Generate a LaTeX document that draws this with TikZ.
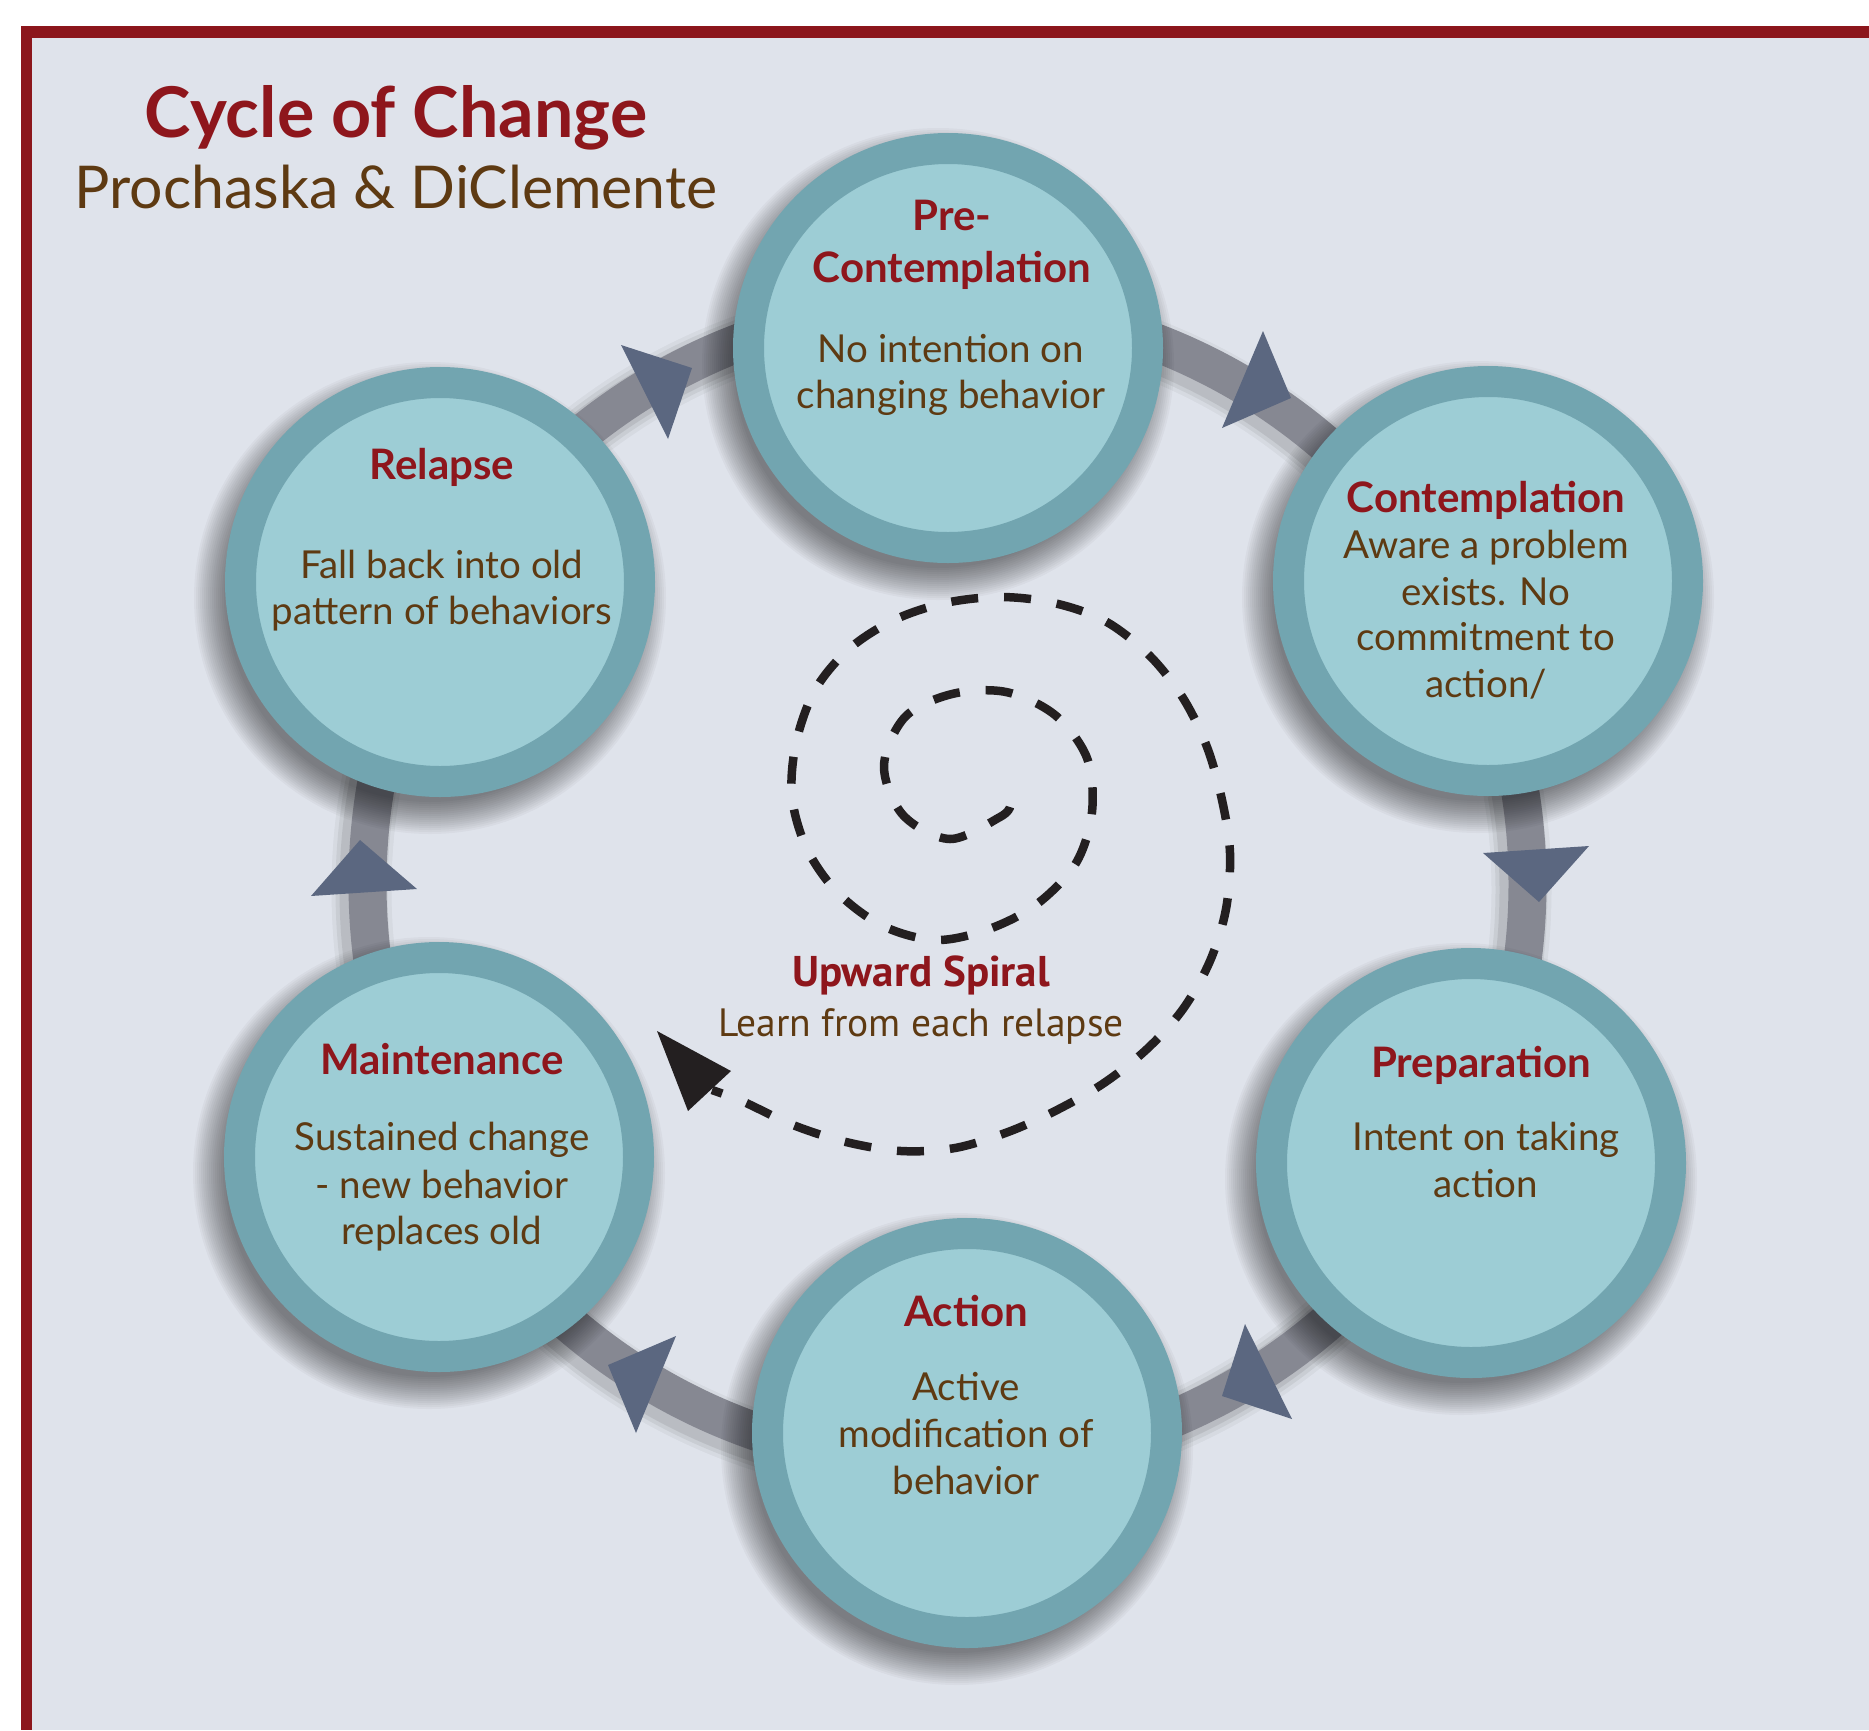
\documentclass[tikz,border=0pt]{standalone}
\usepackage{fontspec}
\setmainfont{Lato}
\newfontfamily\spiralfont{PT Sans}
\usetikzlibrary{calc}

\definecolor{panel}{HTML}{DFE3EB}
\definecolor{frame}{HTML}{8C161C}
\definecolor{ringout}{HTML}{72A5B0}
\definecolor{ringin}{HTML}{9DCDD5}
\definecolor{band}{HTML}{868892}
\definecolor{tri}{HTML}{5B6780}
\definecolor{headred}{HTML}{8E161C}
\definecolor{bodybrown}{HTML}{5E3A12}
\definecolor{ink}{HTML}{231F20}

\tikzset{
  stage/.style={circle, draw=ringout, line width=31pt, fill=ringin,
    minimum size=399pt, inner sep=0pt},
  head/.style={anchor=base, text=headred, font=\fontsize{42}{48}\selectfont\bfseries},
  body/.style={anchor=base, text=bodybrown, font=\fontsize{38.5}{44}\selectfont},
  turn/.style={fill=tri},
  spiral/.style={draw=ink, line width=8.5pt, dash pattern=on 27pt off 26pt}
}

% soft drop shadow under a stage, built from stacked translucent discs
\newcommand\stageshadow[1]{%
  \foreach \r in {204,206,...,236} {
    \fill[black, opacity=0.03] ($(#1)+(-10,16)$) circle (\r);
  }%
}

\begin{document}
\begin{tikzpicture}[x=1pt,y=-1pt]
  % page and frame
  \useasboundingbox (0,0) rectangle (1869,1730);
  \fill[white] (0,0) rectangle (1869,1730);
  \fill[frame] (21,26) rectangle (1869,1730);
  \fill[panel] (32,38) rectangle (1869,1730);

  % title
  \node[anchor=base, text=headred, font=\fontsize{70}{74}\selectfont\bfseries] (title) at (396,137) {Cycle of Change};
  \node[anchor=base, text=bodybrown, font=\fontsize{59}{64}\selectfont] (subtitle) at (396,208) {Prochaska \& DiClemente};

  % the cycle band with a soft shadow
  \coordinate (hub) at (947.5,884);
  \foreach \w/\o in {60/0.04,52/0.06,44/0.08} {
    \draw[black, opacity=\o, line width=\w pt] ($(hub)+(-6,6)$) circle (580);
  }
  \draw[band, line width=38pt] (hub) circle (580);

  % arrowheads along the band
  \fill[turn] (621,345) -- (692,368) -- (668,439) -- cycle;
  \fill[turn] (1263,331) -- (1291,398) -- (1222,428) -- cycle;
  \fill[turn] (1483,853) -- (1589,846) -- (1539,902) -- cycle;
  \fill[turn] (1245,1324) -- (1292,1419) -- (1222,1396) -- cycle;
  \fill[turn] (676,1336) -- (636,1433) -- (608,1365) -- cycle;
  \fill[turn] (360,840) -- (417,889) -- (311,896) -- cycle;

  % stage positions
  \coordinate (preC)  at (948,348);
  \coordinate (conC)  at (1488,581);
  \coordinate (prepC) at (1471,1163);
  \coordinate (actC)  at (967,1433);
  \coordinate (mainC) at (439,1157);
  \coordinate (relC)  at (440,582);

  \foreach \s in {preC,conC,prepC,actC,mainC,relC} { \stageshadow{\s} }

  % stages
  \node[stage] (pre)  at (preC)  {};
  \node[stage] (con)  at (conC)  {};
  \node[stage] (prep) at (prepC) {};
  \node[stage] (act)  at (actC)  {};
  \node[stage] (main) at (mainC) {};
  \node[stage] (rel)  at (relC)  {};

  % stage texts
  \node[head] (preA) at (952,230) {Pre-};
  \node[head] (preB) at (952,282) {Contemplation};
  \node[body] (preT1) at (951,362) {No intention on};
  \node[body] (preT2) at (951,408) {changing behavior};

  \node[head] (conA) at (1486,512) {Contemplation};
  \node[body] (conT1) at (1486,558) {Aware a problem};
  \node[body] (conT2) at (1486,605) {exists. No};
  \node[body] (conT3) at (1486,650) {commitment to};
  \node[body] (conT4) at (1486,697) {action/};

  \node[head] (prepA) at (1481,1077) {Preparation};
  \node[body] (prepT1) at (1486,1150) {Intent on taking};
  \node[body] (prepT2) at (1486,1197) {action};

  \node[head] (actA) at (966,1326) {Action};
  \node[body] (actT1) at (966,1400) {Active};
  \node[body] (actT2) at (966,1447) {modification of};
  \node[body] (actT3) at (966,1494) {behavior};

  \node[head] (mainA) at (442,1074) {Maintenance};
  \node[body] (mainT1) at (442,1150) {Sustained change};
  \node[body] (mainT2) at (442,1198) {- new behavior};
  \node[body] (mainT3) at (442,1244) {replaces old};

  \node[head] (relA) at (442,479) {Relapse};
  \node[body] (relT1) at (442,578) {Fall back into old};
  \node[body] (relT2) at (442,624) {pattern of behaviors};

  % upward spiral
  \draw[spiral] plot[smooth, tension=0.55] coordinates {
    (1010,807) (1000,817) (950,839) (903,815) (884,766) (905,717) (952,694)
    (1006,692) (1055,715) (1087,758) (1092,812) (1076,863) (1037,904)
    (989,929) (936,940) (883,926) (838,893) (807,849) (792,797) (796,743)
    (815,690) (849,649) (894,620) (945,603) (1000,597) (1054,603) (1105,621)
    (1149,655) (1183,698) (1207,747) (1222,800) (1230,853) (1226,909)
    (1210,961) (1183,1009) (1147,1049) (1104,1083) (1057,1110) (1008,1132)
    (955,1148) (901,1151) (846,1142) (793,1125) (744,1102) (712,1090)};
  \fill[ink] (657,1031) -- (731,1071) -- (688,1111) -- cycle;

  \node[anchor=base, text=headred, font=\spiralfont\fontsize{43}{48}\selectfont\bfseries] (upA) at (921,986) {Upward Spiral};
  \node[anchor=base, text=bodybrown, font=\spiralfont\fontsize{39.5}{44}\selectfont] (upB) at (921,1036) {Learn from each relapse};
\end{tikzpicture}
\end{document}
